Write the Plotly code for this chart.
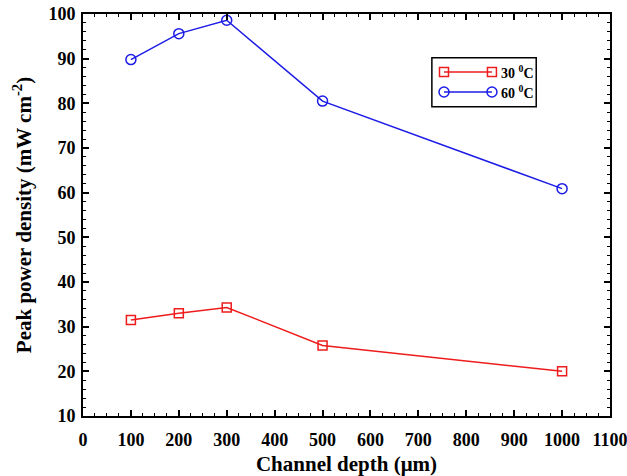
import plotly.graph_objects as go

depth = [100, 200, 300, 500, 1000]
p30 = [31.5, 33.0, 34.3, 25.8, 20.0]
p60 = [89.8, 95.6, 98.6, 80.5, 60.9]
series_names = ["30 <sup>0</sup>C", "60 <sup>0</sup>C"]

RED = "#ee1c1c"
BLUE = "#1c1ce6"
FONT = "Liberation Serif"

fig = go.Figure()
fig.add_trace(go.Scatter(x=depth, y=p30, mode="lines+markers", name=series_names[0],
                         line=dict(color=RED, width=1.5),
                         marker=dict(symbol="square-open", size=9, color=RED, line=dict(width=1.5))))
fig.add_trace(go.Scatter(x=depth, y=p60, mode="lines+markers", name=series_names[1],
                         line=dict(color=BLUE, width=1.5),
                         marker=dict(symbol="circle-open", size=10, color=BLUE, line=dict(width=1.5))))

# custom legend drawn on an overlay axis in paper-like units
lx = [0.685, 0.776]
for name, col, sym, yy, sz in [(series_names[0], RED, "square-open", 0.856, 9),
                               (series_names[1], BLUE, "circle-open", 0.806, 10)]:
    fig.add_trace(go.Scatter(x=lx, y=[yy, yy], xaxis="x2", yaxis="y2", mode="lines+markers",
                             line=dict(color=col, width=1.5),
                             marker=dict(symbol=sym, size=sz, color=col, line=dict(width=1.5)),
                             showlegend=False, hoverinfo="skip"))
    fig.add_annotation(x=0.789, y=yy, xref="paper", yref="paper", text="<b>" + name + "</b>",
                       showarrow=False, xanchor="left", yanchor="middle",
                       font=dict(family=FONT, size=14, color="black"))
fig.add_shape(type="rect", xref="paper", yref="paper", x0=0.662, x1=0.860, y0=0.769, y1=0.891,
              line=dict(color="black", width=1.5), fillcolor="rgba(0,0,0,0)")

axis_common = dict(showline=True, linecolor="black", linewidth=2, mirror="allticks",
                   ticks="inside", ticklen=6, tickwidth=1.5, tickcolor="black",
                   showgrid=False, zeroline=False, automargin=False, ticklabeloverflow="allow",
                   tickfont=dict(family=FONT, size=18, color="black"))

fig.update_layout(
    width=627, height=476,
    margin=dict(l=83, r=17, t=14, b=60),
    paper_bgcolor="white", plot_bgcolor="white",
    showlegend=False,
    font=dict(family=FONT, color="black"),
    xaxis=dict(range=[0, 1100], dtick=100, tick0=0, ticklabelstandoff=6,
               title=dict(text="<b>Channel depth (μm)</b>", font=dict(family=FONT, size=21), standoff=8),
               minor=dict(ticks="inside", dtick=25, ticklen=3, tickcolor="black", tickwidth=1),
               tickprefix="<b>", ticksuffix="</b>", **axis_common),
    yaxis=dict(range=[10, 100], dtick=10, tick0=10, ticklabelstandoff=2,
               title=dict(text="<b>Peak power density (mW cm<sup>-2</sup>)</b>", font=dict(family=FONT, size=21), standoff=11),
               minor=dict(ticks="inside", dtick=2, ticklen=3, tickcolor="black", tickwidth=1),
               tickprefix="<b>", ticksuffix="</b>", **axis_common),
    xaxis2=dict(domain=[0, 1], range=[0, 1], overlaying="x", visible=False, anchor="y2"),
    yaxis2=dict(domain=[0, 1], range=[0, 1], overlaying="y", visible=False, anchor="x2"),
)

fig.write_html("out.html", config={"displayModeBar": False},
               post_script="document.body.style.margin='0';")
